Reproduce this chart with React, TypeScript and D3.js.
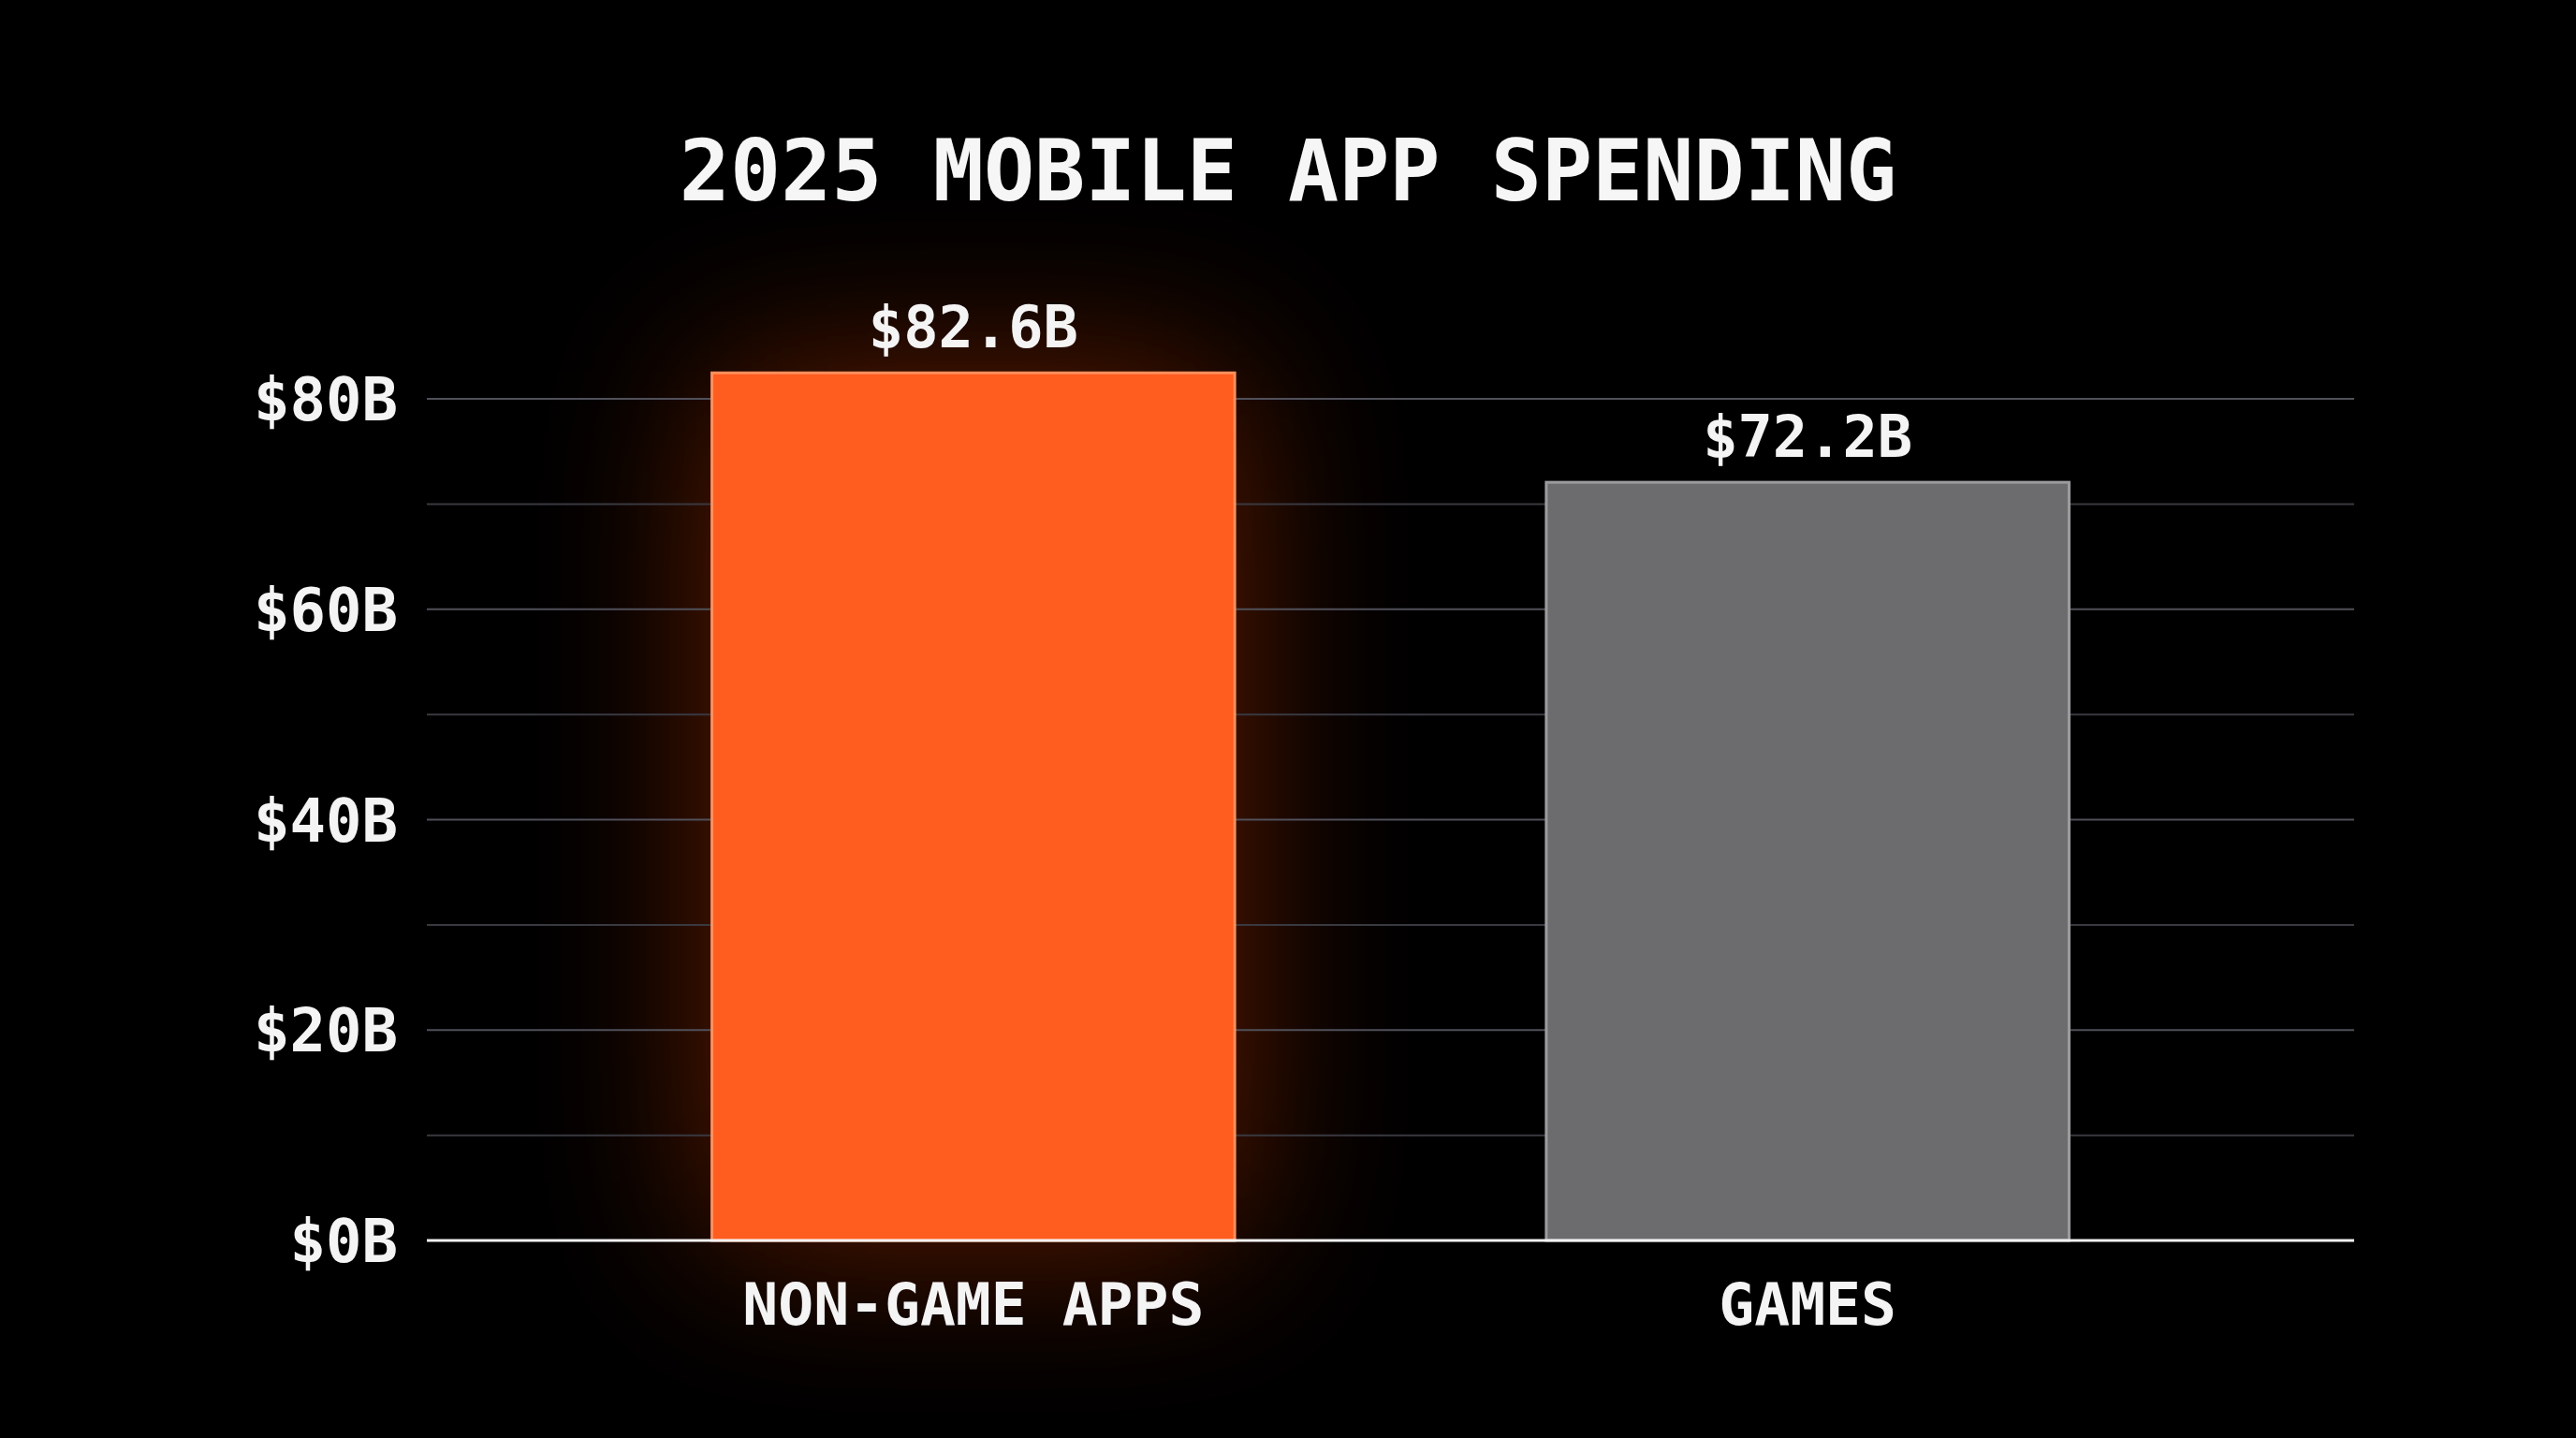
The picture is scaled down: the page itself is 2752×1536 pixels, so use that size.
import React, { useEffect, useRef } from "react";
import * as d3 from "d3";

// chart data
const categories = ["NON-GAME APPS", "GAMES"];
const spending = [82.6, 72.2];
const valueLabels = ["$82.6B", "$72.2B"];
const yTicks = [0, 20, 40, 60, 80];
const gridValues = [10, 20, 30, 40, 50, 60, 70, 80];

const W = 2752;
const H = 1536;
const FONT = "'DejaVu Sans Mono', 'Liberation Mono', monospace";

export default function App() {
    const ref = useRef<SVGSVGElement>(null);

    useEffect(() => {
        document.body.style.margin = "0";
        document.body.style.background = "#000";

        const margin = { left: 456, right: W - 2515, top: 426, bottom: H - 1325 };
        const w = W - margin.left - margin.right;
        const h = H - margin.top - margin.bottom;

        const svg = d3.select(ref.current);
        svg.selectAll("*").remove();

        svg.append("rect")
            .attr("width", W)
            .attr("height", H)
            .attr("fill", "#000");

        const defs = svg.append("defs");
        const glow = defs.append("filter")
            .attr("id", "glow")
            .attr("x", "-150%")
            .attr("y", "-80%")
            .attr("width", "400%")
            .attr("height", "260%");
        glow.append("feGaussianBlur").attr("stdDeviation", 95);

        const xScale = d3.scaleBand<string>()
            .domain(categories)
            .range([0, w])
            .paddingInner(0.37)
            .paddingOuter(0.34);

        const yScale = d3.scaleLinear()
            .domain([0, 80])
            .range([h, 0]);

        const g = svg.append("g")
            .attr("transform", `translate(${margin.left}, ${margin.top})`);

        // glow behind the orange bar
        g.append("rect")
            .attr("x", xScale(categories[0])!)
            .attr("y", yScale(spending[0]))
            .attr("width", xScale.bandwidth())
            .attr("height", h - yScale(spending[0]))
            .attr("fill", "#ff4a00")
            .attr("opacity", 0.4)
            .attr("filter", "url(#glow)");

        // grid
        g.selectAll(".grid")
            .data(gridValues)
            .enter()
            .append("line")
            .attr("class", "grid")
            .attr("x1", 0)
            .attr("x2", w)
            .attr("y1", d => yScale(d))
            .attr("y2", d => yScale(d))
            .attr("stroke", d => (d % 20 === 0 ? "#50505a" : "#393940"))
            .attr("stroke-width", 2);

        // y labels
        g.selectAll(".ytick")
            .data(yTicks)
            .enter()
            .append("text")
            .attr("class", "ytick")
            .attr("x", -31)
            .attr("y", d => yScale(d))
            .attr("dy", "0.36em")
            .attr("text-anchor", "end")
            .attr("fill", "#f4f4f4")
            .attr("font-family", FONT)
            .attr("font-weight", "bold")
            .attr("font-size", 64)
            .text(d => `$${d}B`);

        const colors = ["#ff5c1f", "#6c6c6e"];
        const strokes = ["#ff8f5c", "#9c9c9e"];

        // bars
        g.selectAll(".bar")
            .data(spending)
            .enter()
            .append("rect")
            .attr("class", "bar")
            .attr("x", (d, i) => xScale(categories[i])! + 1.5)
            .attr("y", d => yScale(d) + 1.5)
            .attr("width", xScale.bandwidth() - 3)
            .attr("height", d => h - yScale(d) - 1.5)
            .attr("fill", (d, i) => colors[i])
            .attr("stroke", (d, i) => strokes[i])
            .attr("stroke-width", 3);

        // baseline
        g.append("line")
            .attr("x1", 0)
            .attr("x2", w)
            .attr("y1", h)
            .attr("y2", h)
            .attr("stroke", "#f2f2f2")
            .attr("stroke-width", 3);

        // value labels
        g.selectAll(".value")
            .data(spending)
            .enter()
            .append("text")
            .attr("class", "value")
            .attr("x", (d, i) => xScale(categories[i])! + xScale.bandwidth() / 2)
            .attr("y", d => yScale(d) - 26)
            .attr("text-anchor", "middle")
            .attr("fill", "#f4f4f4")
            .attr("font-family", FONT)
            .attr("font-weight", "bold")
            .attr("font-size", 62)
            .text((d, i) => valueLabels[i]);

        // category labels
        g.selectAll(".cat")
            .data(categories)
            .enter()
            .append("text")
            .attr("class", "cat")
            .attr("x", d => xScale(d)! + xScale.bandwidth() / 2)
            .attr("y", h + 90)
            .attr("text-anchor", "middle")
            .attr("fill", "#f4f4f4")
            .attr("font-family", FONT)
            .attr("font-weight", "bold")
            .attr("font-size", 63)
            .text(d => d);

        // title
        svg.append("text")
            .attr("x", 1376)
            .attr("y", 214)
            .attr("text-anchor", "middle")
            .attr("fill", "#f6f6f6")
            .attr("font-family", FONT)
            .attr("font-weight", "bold")
            .attr("font-size", 90)
            .text("2025 MOBILE APP SPENDING");
    }, []);

    return <svg ref={ref} width={W} height={H} style={{ display: "block" }}></svg>;
}
